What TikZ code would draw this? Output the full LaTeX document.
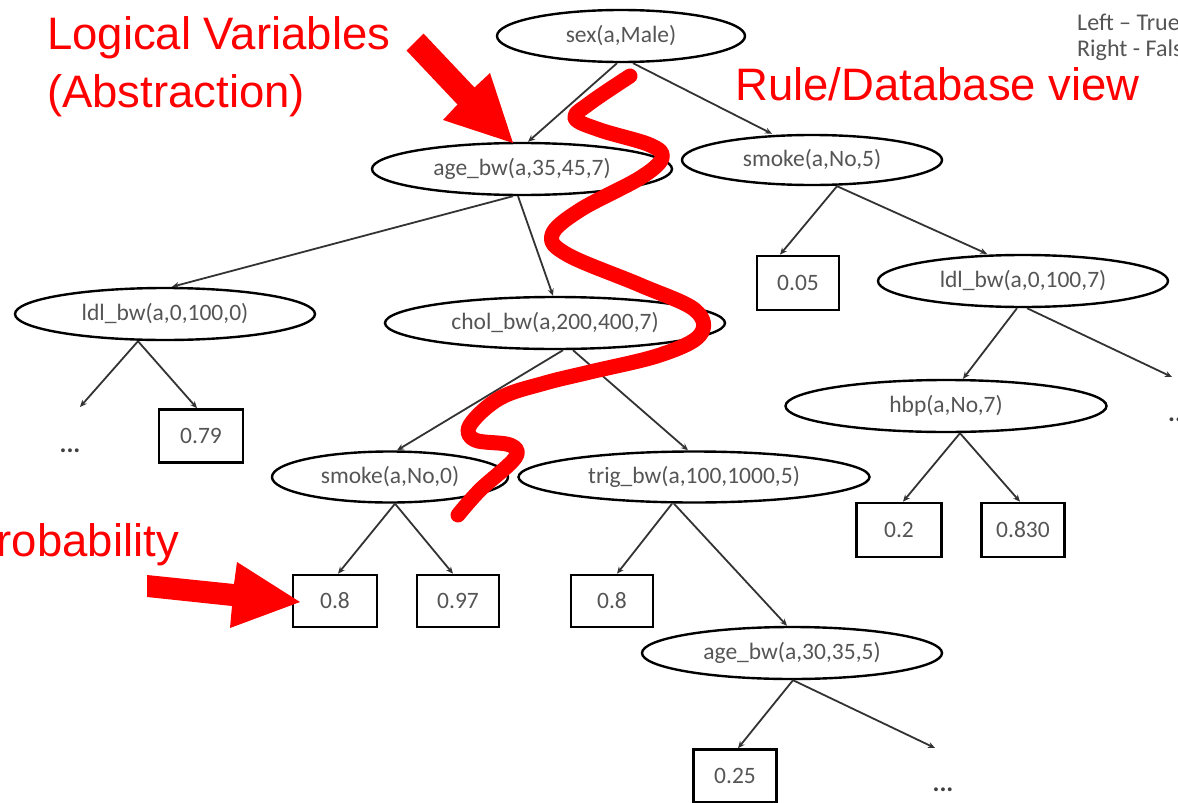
\documentclass[tikz,border=0pt]{standalone}
\usepackage{fontspec}
\setmainfont{Carlito}
\newfontfamily\redfont{Liberation Sans}
\usetikzlibrary{shapes.geometric,arrows.meta}
\definecolor{lblgray}{RGB}{85,85,85}
\definecolor{redmark}{RGB}{255,0,0}
\tikzset{
  cond/.style={ellipse, draw=black, line width=2.4pt, inner sep=0pt, text=lblgray, font=\fontsize{23.5}{28}\selectfont},
  leaf/.style={rectangle, draw=black, line width=2.6pt, inner sep=0pt, text=lblgray, font=\fontsize{23.5}{28}\selectfont},
  edge/.style={draw=black!80, line width=1.8pt, -{Stealth[length=7pt,width=6pt]}},
  dotlbl/.style={font=\bfseries\fontsize{26}{30}\selectfont, text=black!75, inner sep=0pt},
  redlbl/.style={text=redmark, font=\redfont\fontsize{45.5}{52}\selectfont, inner sep=0pt, anchor=base west},
  legend/.style={text=lblgray, font=\fontsize{24}{28}\selectfont, inner sep=0pt, anchor=base west},
}
\begin{document}
\begin{tikzpicture}[x=1pt,y=-1pt]
\useasboundingbox[fill=white] (0,0) rectangle (1178,803);

% condition nodes
\node[cond, minimum width=248pt, minimum height=52pt] (sex) at (621,36) {sex(a,Male)};
\node[cond, minimum width=300pt, minimum height=52pt] (age35) at (522,169) {age\_bw(a,35,45,7)};
\node[cond, minimum width=260pt, minimum height=50pt] (smoke5) at (812,160) {smoke(a,No,5)};
\node[cond, minimum width=300pt, minimum height=52pt] (ldl0) at (165,314) {ldl\_bw(a,0,100,0)};
\node[cond, minimum width=340pt, minimum height=52pt] (chol) at (555,323) {chol\_bw(a,200,400,7)};
\node[cond, minimum width=290pt, minimum height=52pt] (ldl7) at (1023,281) {ldl\_bw(a,0,100,7)};
\node[cond, minimum width=321pt, minimum height=52pt] (hbp) at (946,406) {hbp(a,No,7)};
\node[cond, minimum width=236pt, minimum height=51pt] (smoke0) at (390,477) {smoke(a,No,0)};
\node[cond, minimum width=351pt, minimum height=51pt] (trig) at (694,477) {trig\_bw(a,100,1000,5)};
\node[cond, minimum width=300pt, minimum height=52pt] (age30) at (792,653) {age\_bw(a,30,35,5)};

% leaves
\node[leaf, minimum width=82pt, minimum height=54pt] (p005) at (798,283) {0.05};
\node[leaf, minimum width=84pt, minimum height=53pt] (p079) at (201,436) {0.79};
\node[leaf, minimum width=84pt, minimum height=52pt] (p08a) at (335,601) {0.8};
\node[leaf, minimum width=82pt, minimum height=52pt] (p097) at (458,601) {0.97};
\node[leaf, minimum width=82pt, minimum height=52pt] (p08b) at (612,601) {0.8};
\node[leaf, minimum width=85pt, minimum height=54pt] (p02) at (899,530) {0.2};
\node[leaf, minimum width=83pt, minimum height=54pt] (p0830) at (1023,530) {0.830};
\node[leaf, minimum width=83pt, minimum height=53pt] (p025) at (735,776) {0.25};

% dots
\node[dotlbl] (dots1) at (70,451) {...};
\node[dotlbl, anchor=west] (dots2) at (1168,420) {...};
\node[dotlbl] (dots3) at (943,790) {...};
\coordinate (e1) at (80,407);
\coordinate (e2) at (1172,377);
\coordinate (e3) at (935,748);

% edges
\draw[edge] ([xshift=-4pt]sex.south) -- ([xshift=6pt]age35.north);
\draw[edge] ([xshift=12pt]sex.south) -- ([xshift=-40pt]smoke5.north);
\draw[edge] ([xshift=-9pt]age35.south) -- ([xshift=7pt]ldl0.north);
\draw[edge] ([xshift=-4pt]age35.south) -- ([xshift=-2pt]chol.north);
\draw[edge] ([xshift=-27pt]ldl0.south) -- (e1);
\draw[edge] ([xshift=-27pt]ldl0.south) -- ([xshift=-4pt]p079.north);
\draw[edge] ([xshift=8pt]chol.south) -- ([xshift=7pt]smoke0.north);
\draw[edge] ([xshift=18pt]chol.south) -- ([xshift=-6pt]trig.north);
\draw[edge] ([xshift=5pt]smoke0.south) -- ([xshift=3pt]p08a.north);
\draw[edge] ([xshift=5pt]smoke0.south) -- ([xshift=-5pt]p097.north);
\draw[edge] ([xshift=-22pt]trig.south) -- ([xshift=5pt]p08b.north);
\draw[edge] ([xshift=-20pt]trig.south) -- ([xshift=-5pt]age30.north);
\draw[edge] ([xshift=1pt]age30.south) -- ([xshift=3pt]p025.north);
\draw[edge] ([xshift=1pt]age30.south) -- (e3);
\draw[edge] ([xshift=25pt]smoke5.south) -- ([xshift=-18pt]p005.north);
\draw[edge] ([xshift=25pt]smoke5.south) -- ([xshift=-36pt]ldl7.north);
\draw[edge] ([xshift=-6pt]ldl7.south) -- ([xshift=17pt]hbp.north);
\draw[edge] ([xshift=4pt]ldl7.south) -- (e2);
\draw[edge] ([xshift=14pt]hbp.south) -- ([xshift=4pt]p02.north);
\draw[edge] ([xshift=14pt]hbp.south) -- ([xshift=-3pt]p0830.north);

% legend
\node[legend] (leg1) at (1077,30) {Left – True};
\node[legend] (leg2) at (1077,56) {Right - False};

% red annotations
\node[redlbl] (lv1) at (47,49) {Logical Variables};
\node[redlbl] (lv2) at (47,107) {(Abstraction)};
\node[redlbl] (rdb) at (735,100) {Rule/Database view};
\node[redlbl, anchor=base east] (prob) at (179,556) {Probability};

\fill[redmark] (423.5,33.5) -- (474.5,87.5) -- (490,73) -- (513,143) -- (443,120) -- (457.5,104.5) -- (406.5,50.5) -- cycle;
\fill[redmark] (147,575) -- (234,584) -- (237,562) -- (300,602) -- (230,628) -- (232,606) -- (147,597) -- cycle;

\draw[redmark, line width=15pt, line cap=round, line join=round]
  plot[smooth, tension=0.6] coordinates {
  (630,76) (590,103) (575,118) (600,130) (650,145) (662,158) (640,178)
  (580,210) (552,235) (568,255) (640,285) (695,310) (700,335) (660,355)
  (590,372) (545,383) (500,398) (470,425) (475,440) (510,445) (515,458)
  (480,490) (458,515)};
\end{tikzpicture}
\end{document}
